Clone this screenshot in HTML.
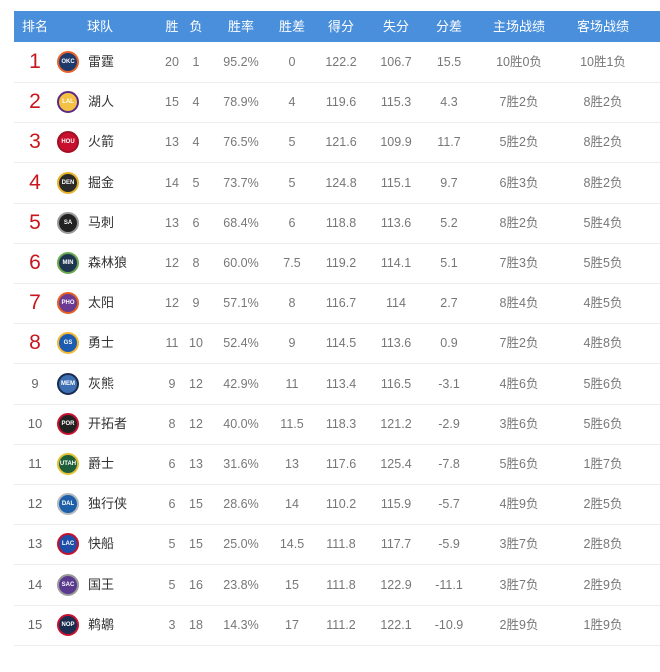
<!DOCTYPE html>
<html><head><meta charset="utf-8"><style>
body{margin:0;width:660px;height:672px;background:#fff;font-family:"Liberation Sans","Noto Sans CJK SC",sans-serif;position:relative;overflow:hidden}
.hd{position:absolute;left:14px;top:11px;width:646px;height:31px;background:#4a8fdc}
.hd span{position:absolute;top:0;line-height:31px;color:#fff;font-size:13px;transform:translateX(-50%)}
.r{position:absolute;left:14px;width:646px;height:40px;border-bottom:1px solid #ececec}
.r span{position:absolute;top:0;line-height:40px;font-size:12.5px;color:#777;transform:translateX(-50%);white-space:nowrap}
.r .rk{font-size:13px;color:#666}
.r .rk.big{font-size:21px;color:#c8161d}
.r .nm{transform:none;color:#333;font-size:13px}
.r .lg{left:43px;top:9px;width:18px;height:18px;border-radius:50%;border:2px solid #c33;font-size:6px;line-height:18px;text-align:center;color:#fff;font-weight:bold;transform:none}
</style></head><body>
<div class="hd"><span style="left:21px">排名</span><span style="transform:none;left:73px">球队</span><span style="left:158px">胜</span><span style="left:182px">负</span><span style="left:227px">胜率</span><span style="left:278px">胜差</span><span style="left:327px">得分</span><span style="left:382px">失分</span><span style="left:435px">分差</span><span style="left:505px">主场战绩</span><span style="left:589px">客场战绩</span></div>
<div id="t"></div>
<script>
var d=[["1","雷霆","20","1","95.2%","0","122.2","106.7","15.5","10胜0负","10胜1负","#1d3a6b","#e8622a","OKC"],
["2","湖人","15","4","78.9%","4","119.6","115.3","4.3","7胜2负","8胜2负","#f3c244","#5b2a86","LAL"],
["3","火箭","13","4","76.5%","5","121.6","109.9","11.7","5胜2负","8胜2负","#c8102e","#a01025","HOU"],
["4","掘金","14","5","73.7%","5","124.8","115.1","9.7","6胜3负","8胜2负","#2a2a2a","#e6b325","DEN"],
["5","马刺","13","6","68.4%","6","118.8","113.6","5.2","8胜2负","5胜4负","#222","#999","SA"],
["6","森林狼","12","8","60.0%","7.5","119.2","114.1","5.1","7胜3负","5胜5负","#1e3550","#6aa84f","MIN"],
["7","太阳","12","9","57.1%","8","116.7","114","2.7","8胜4负","4胜5负","#6b3a92","#e56020","PHO"],
["8","勇士","11","10","52.4%","9","114.5","113.6","0.9","7胜2负","4胜8负","#1d5bb0","#f2b830","GS"],
["9","灰熊","9","12","42.9%","11","113.4","116.5","-3.1","4胜6负","5胜6负","#3d6fb3","#1a2c50","MEM"],
["10","开拓者","8","12","40.0%","11.5","118.3","121.2","-2.9","3胜6负","5胜6负","#222","#c8102e","POR"],
["11","爵士","6","13","31.6%","13","117.6","125.4","-7.8","5胜6负","1胜7负","#1f5e3a","#e0c030","UTAH"],
["12","独行侠","6","15","28.6%","14","110.2","115.9","-5.7","4胜9负","2胜5负","#1d5fa8","#b0b8c0","DAL"],
["13","快船","5","15","25.0%","14.5","111.8","117.7","-5.9","3胜7负","2胜8负","#1d4fa8","#c8102e","LAC"],
["14","国王","5","16","23.8%","15","111.8","122.9","-11.1","3胜7负","2胜9负","#5a3a8e","#999","SAC"],
["15","鹈鹕","3","18","14.3%","17","111.2","122.1","-10.9","2胜9负","1胜9负","#1a2c50","#c8102e","NOP"]];
var h="";d.forEach(function(r,i){var top=42+i*40.2;
h+='<div class="r" style="top:'+top+'px"><span class="rk'+(i<8?' big':'')+'" style="left:21px">'+r[0]+'</span>'+
'<span class="lg" style="background:'+r[11]+';border-color:'+r[12]+'">'+r[13]+'</span>'+
'<span class="nm" style="left:74px">'+r[1]+'</span>'+
'<span style="left:158px">'+r[2]+'</span><span style="left:182px">'+r[3]+'</span><span style="left:227px">'+r[4]+'</span><span style="left:278px">'+r[5]+'</span><span style="left:327px">'+r[6]+'</span><span style="left:382px">'+r[7]+'</span><span style="left:435px">'+r[8]+'</span><span style="left:505px">'+r[9]+'</span><span style="left:589px">'+r[10]+'</span></div>';});
document.getElementById("t").innerHTML=h;
</script>
</body></html>
